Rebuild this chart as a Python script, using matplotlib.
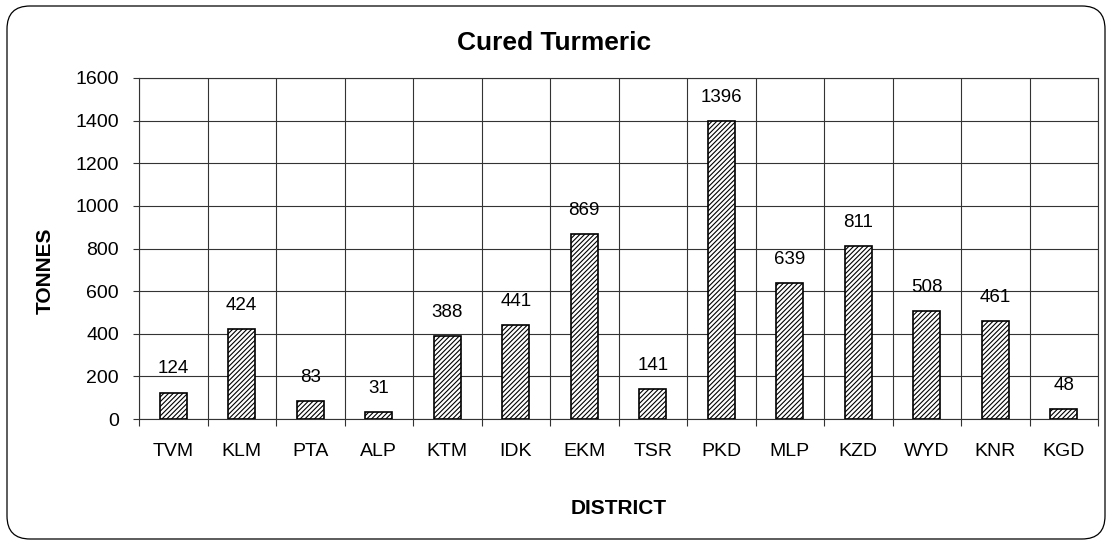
import matplotlib.pyplot as plt
import numpy as np
from matplotlib.patches import FancyBboxPatch

districts = ['TVM', 'KLM', 'PTA', 'ALP', 'KTM', 'IDK', 'EKM', 'TSR', 'PKD',
             'MLP', 'KZD', 'WYD', 'KNR', 'KGD']
tonnes = [124, 424, 83, 31, 388, 441, 869, 141, 1396, 639, 811, 508, 461, 48]

plt.rcParams['font.family'] = ['Liberation Sans', 'DejaVu Sans']
plt.rcParams['hatch.color'] = '#555555'
plt.rcParams['hatch.linewidth'] = 0.8

fig = plt.figure(figsize=(11.09, 5.41), dpi=100)
ax = fig.add_axes([139/1109, 1 - 419/541, (1098-139)/1109, (419-78)/541])

x = np.arange(len(districts))
ax.bar(x, tonnes, width=0.4, color='white', edgecolor='black', linewidth=1.2,
       hatch='///////', zorder=3)
for xi, v in zip(x, tonnes):
    ax.annotate(str(v), (xi, v), xytext=(0, 17), textcoords='offset points',
                ha='center', va='center', fontsize=13.5)

ax.set_xlim(-0.5, len(districts) - 0.5)
ax.set_ylim(0, 1600)
ax.set_yticks(range(0, 1601, 200))
ax.set_xticks(x)
ax.set_xticklabels(districts)
ax.set_xticks(np.arange(-0.5, len(districts)), minor=True)
ax.tick_params(axis='x', which='major', length=0, pad=17, labelsize=14)
ax.tick_params(axis='x', which='minor', length=5, width=0.8, color='#333333')
ax.tick_params(axis='y', length=4.5, width=0.8, labelsize=14, pad=10, color='#333333')
ax.grid(True, axis='y', color='#333333', linewidth=0.8, zorder=0)
ax.grid(True, axis='x', which='minor', color='#333333', linewidth=0.8, zorder=0)
for s in ax.spines.values():
    s.set_color('#333333')
    s.set_linewidth(0.8)

ax.set_ylabel('TONNES', fontsize=15, fontweight='bold')
ax.yaxis.set_label_coords(45/1109, 0.5, transform=fig.transFigure)
ax.set_xlabel('DISTRICT', fontsize=15, fontweight='bold')
ax.xaxis.set_label_coords(619/1109, 1 - 508/541, transform=fig.transFigure)
ax.xaxis.label.set_va('center')
ax.yaxis.label.set_va('center')
fig.text(0.5, 1 - 43/541, 'Cured Turmeric', ha='center', va='center',
         fontsize=19, fontweight='bold')

frame = FancyBboxPatch((7, 2), 1098, 533, boxstyle='round,pad=0,rounding_size=23',
                       transform=None, facecolor='none', edgecolor='black',
                       linewidth=0.9)
fig.patches.append(frame)

fig.savefig('out.png', dpi=100)
